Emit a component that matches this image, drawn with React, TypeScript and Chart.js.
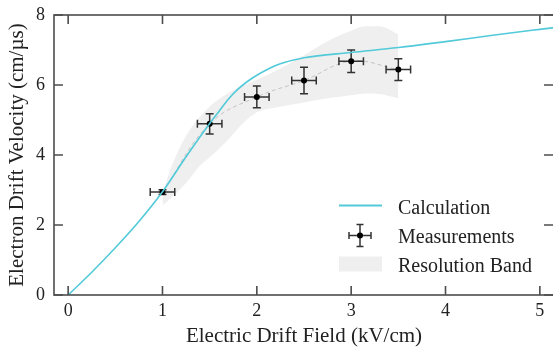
import React, { useEffect, useRef } from "react";
import { Chart, registerables } from "chart.js";
Chart.register(...registerables);

// Calculation curve
const calcX = [0, 0.25, 0.5, 0.75, 1.0, 1.25, 1.5, 1.6, 1.7, 1.8, 1.9, 2.0, 2.1, 2.2, 2.3, 2.4, 2.5, 3.0, 3.5, 4.0, 4.5, 5.0, 5.3];
const calcY = [0, 0.65, 1.35, 2.1, 2.95, 3.95, 4.9, 5.25, 5.6, 5.88, 6.1, 6.28, 6.43, 6.56, 6.65, 6.72, 6.78, 6.93, 7.07, 7.24, 7.42, 7.59, 7.69];

// Measurements
const measX = [1.0, 1.5, 2.0, 2.5, 3.0, 3.5];
const measY = [2.94, 4.89, 5.66, 6.13, 6.68, 6.44];
const measXErr = [0.13, 0.13, 0.13, 0.13, 0.13, 0.13];
const measYErr = [0.07, 0.29, 0.31, 0.38, 0.32, 0.31];

// Resolution band
const bandX = [1.0, 1.1, 1.25, 1.4, 1.55, 1.7, 1.85, 2.0, 2.25, 2.5, 2.75, 3.0, 3.15, 3.3, 3.5];
const bandUpper = [2.9, 3.7, 4.55, 5.1, 5.5, 5.78, 5.98, 6.15, 6.47, 6.85, 7.25, 7.55, 7.68, 7.68, 7.45];
const bandLower = [2.55, 2.8, 3.2, 3.7, 4.05, 4.45, 4.9, 5.22, 5.38, 5.5, 5.62, 5.71, 5.76, 5.74, 5.62];

const xTicks = [0, 1, 2, 3, 4, 5];
const yTicks = [0, 2, 4, 6, 8];

const legendLabels = ["Calculation", "Measurements", "Resolution Band"];

const CYAN = "#52cad9";
const AXIS = "#4d4d4d";
const TEXT = "#222222";
const BAND = "#efefef";
const FONT = "'Liberation Serif', 'Times New Roman', serif";

const pts = (xs: number[], ys: number[]) => xs.map((x, i) => ({ x, y: ys[i] }));

export default function App() {
  const ref = useRef<HTMLCanvasElement>(null);
  useEffect(() => {
    const errorBars = {
      id: "errorBars",
      afterDatasetDraw(chart: any, args: any) {
        if (args.index !== 1) return;
        const ctx = chart.ctx;
        const xs = chart.scales.x;
        const ys = chart.scales.y;
        ctx.save();
        ctx.strokeStyle = "#333";
        ctx.lineWidth = 1.5;
        const cap = 4;
        measX.forEach((mx, i) => {
          const px = xs.getPixelForValue(mx);
          const py = ys.getPixelForValue(measY[i]);
          const x0 = xs.getPixelForValue(mx - measXErr[i]);
          const x1 = xs.getPixelForValue(mx + measXErr[i]);
          const y0 = ys.getPixelForValue(measY[i] - measYErr[i]);
          const y1 = ys.getPixelForValue(measY[i] + measYErr[i]);
          ctx.beginPath();
          ctx.moveTo(x0, py); ctx.lineTo(x1, py);
          ctx.moveTo(x0, py - cap); ctx.lineTo(x0, py + cap);
          ctx.moveTo(x1, py - cap); ctx.lineTo(x1, py + cap);
          ctx.moveTo(px, y0); ctx.lineTo(px, y1);
          ctx.moveTo(px - cap, y0); ctx.lineTo(px + cap, y0);
          ctx.moveTo(px - cap, y1); ctx.lineTo(px + cap, y1);
          ctx.stroke();
          ctx.fillStyle = "#000";
          ctx.beginPath();
          ctx.arc(px, py, 3, 0, Math.PI * 2);
          ctx.fill();
        });
        ctx.restore();
      },
    };

    const frame = {
      id: "frame",
      afterDraw(chart: any) {
        const ctx = chart.ctx;
        const { left, right, top, bottom } = chart.chartArea;
        const xs = chart.scales.x;
        const ys = chart.scales.y;
        ctx.save();
        ctx.strokeStyle = AXIS;
        ctx.lineWidth = 1.6;
        ctx.strokeRect(left, top, right - left, bottom - top);
        const tl = 9;
        ctx.beginPath();
        xTicks.forEach((t) => {
          const px = xs.getPixelForValue(t);
          ctx.moveTo(px, bottom); ctx.lineTo(px, bottom - tl);
          ctx.moveTo(px, top); ctx.lineTo(px, top + tl);
        });
        yTicks.forEach((t) => {
          const py = ys.getPixelForValue(t);
          ctx.moveTo(left, py); ctx.lineTo(left + tl, py);
          ctx.moveTo(right, py); ctx.lineTo(right - tl - 1, py);
        });
        ctx.stroke();

        // legend
        const lx0 = 339, lx1 = 382, tx = 398;
        const base = [213.5, 243, 272];
        ctx.font = `20px ${FONT}`;
        ctx.fillStyle = TEXT;
        ctx.textBaseline = "alphabetic";
        ctx.textAlign = "left";
        legendLabels.forEach((lab, i) => ctx.fillText(lab, tx, base[i]));
        // calculation line
        ctx.strokeStyle = CYAN;
        ctx.lineWidth = 2;
        ctx.beginPath();
        ctx.moveTo(lx0, 205.5); ctx.lineTo(lx1, 205.5);
        ctx.stroke();
        // measurement symbol
        const cx = 360, cy = 235.5, e = 11, c = 3.5;
        ctx.strokeStyle = "#333";
        ctx.lineWidth = 1.5;
        ctx.beginPath();
        ctx.moveTo(cx - e, cy); ctx.lineTo(cx + e, cy);
        ctx.moveTo(cx - e, cy - c); ctx.lineTo(cx - e, cy + c);
        ctx.moveTo(cx + e, cy - c); ctx.lineTo(cx + e, cy + c);
        ctx.moveTo(cx, cy - e); ctx.lineTo(cx, cy + e);
        ctx.moveTo(cx - c, cy - e); ctx.lineTo(cx + c, cy - e);
        ctx.moveTo(cx - c, cy + e); ctx.lineTo(cx + c, cy + e);
        ctx.stroke();
        ctx.fillStyle = "#000";
        ctx.beginPath();
        ctx.arc(cx, cy, 3, 0, Math.PI * 2);
        ctx.fill();
        // band swatch
        ctx.fillStyle = BAND;
        ctx.fillRect(lx0, 256.5, lx1 - lx0, 15);
        ctx.restore();
      },
    };

    const chart = new Chart(ref.current!, {
      type: "line",
      data: {
        datasets: [
          {
            label: "Calculation",
            data: pts(calcX, calcY),
            borderColor: CYAN,
            borderWidth: 1.6,
            pointRadius: 0,
            cubicInterpolationMode: "monotone",
            fill: false,
            order: 0,
          },
          {
            label: "Measurements",
            data: pts(measX, measY),
            borderColor: "#c4c4c4",
            borderWidth: 1,
            borderDash: [4, 3],
            pointRadius: 0,
            tension: 0.4,
            fill: false,
            order: 1,
          },
          {
            label: "Band lower",
            data: pts(bandX, bandLower),
            borderWidth: 0,
            borderColor: "rgba(0,0,0,0)",
            pointRadius: 0,
            cubicInterpolationMode: "monotone",
            fill: false,
            order: 3,
          },
          {
            label: "Resolution Band",
            data: pts(bandX, bandUpper),
            borderWidth: 0,
            borderColor: "rgba(0,0,0,0)",
            backgroundColor: BAND,
            pointRadius: 0,
            cubicInterpolationMode: "monotone",
            fill: "-1",
            order: 2,
          },
        ],
      },
      options: {
        animation: false,
        responsive: false,
        layout: { padding: { top: 15, right: 6, left: 0, bottom: 0 } },
        plugins: { legend: { display: false }, tooltip: { enabled: false } },
        scales: {
          x: {
            type: "linear",
            min: -0.15,
            max: 5.15,
            afterFit: (s: any) => { s.height = 54; s.paddingLeft = 0; s.paddingRight = 0; },
            grid: { display: false, drawTicks: false },
            border: { display: false },
            ticks: {
              stepSize: 1,
              includeBounds: false,
              padding: 5,
              color: TEXT,
              font: { family: FONT, size: 18 },
            },
            title: {
              display: true,
              text: "Electric Drift Field (kV/cm)",
              color: TEXT,
              font: { family: FONT, size: 21 },
              padding: { top: 0, bottom: 0 },
            },
          },
          y: {
            type: "linear",
            min: 0,
            max: 8,
            afterFit: (s: any) => { s.width = 54; s.paddingTop = 0; s.paddingBottom = 0; },
            grid: { display: false, drawTicks: false },
            border: { display: false },
            ticks: {
              stepSize: 2,
              padding: 9,
              color: TEXT,
              font: { family: FONT, size: 18 },
            },
            title: {
              display: true,
              text: "Electron Drift Velocity (cm/µs)",
              color: TEXT,
              font: { family: FONT, size: 21 },
              padding: { top: 5, bottom: 0 },
            },
          },
        },
      },
      plugins: [errorBars, frame],
    } as any);
    return () => chart.destroy();
  }, []);
  return (
    <div style={{ position: "fixed", left: 0, top: 0, width: 553, height: 349, overflow: "hidden", background: "#fff" }}>
      <canvas ref={ref} width={560} height={349} style={{ display: "block" }} />
    </div>
  );
}
